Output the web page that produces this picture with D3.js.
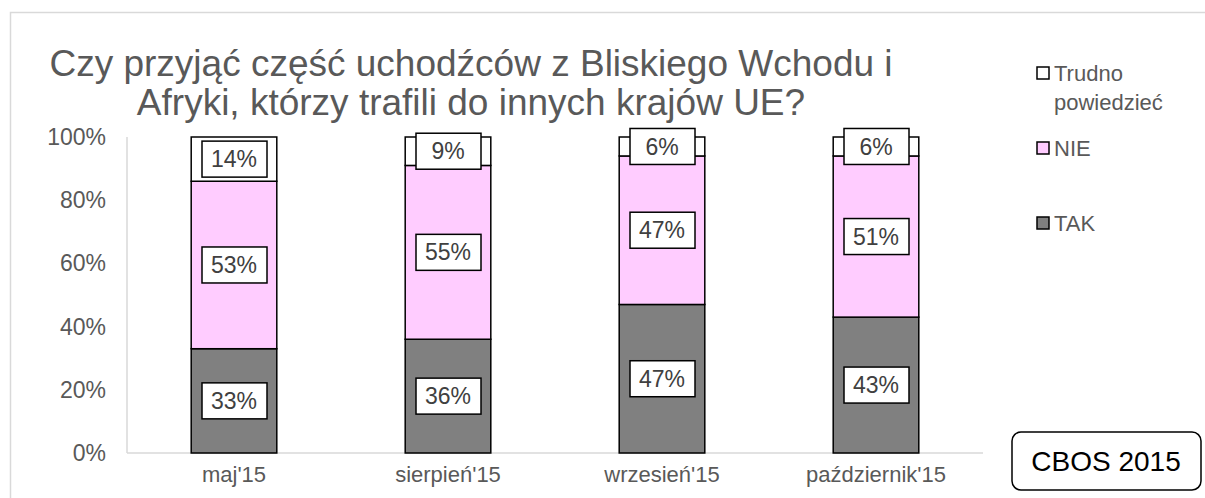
<!DOCTYPE html>
<html>
<head>
<meta charset="utf-8">
<script src="https://cdn.jsdelivr.net/npm/d3@7"></script>
<style>
  body { margin: 0; background: #fff; }
  text { font-family: Arial, "Liberation Sans", sans-serif; }
</style>
</head>
<body>
<div id="chart"></div>
<script>
var categories = ["maj'15", "sierpień'15", "wrzesień'15", "październik'15"];
var seriesNames = ["TAK", "NIE", "Trudno powiedzieć"];
var tak = [33, 36, 47, 43];
var nie = [53, 55, 47, 51];
var trudno = [14, 9, 6, 6];
var yTicks = [0, 20, 40, 60, 80, 100];

var colors = { "TAK": "#808080", "NIE": "#ffccff", "Trudno powiedzieć": "#ffffff" };

var width = 1205, height = 498;
var svg = d3.select("#chart").append("svg")
  .attr("width", width)
  .attr("height", height);

// chart area border
svg.append("rect")
  .attr("x", 10.5).attr("y", 12.5)
  .attr("width", 1210).attr("height", 500)
  .attr("fill", "none")
  .attr("stroke", "#d9d9d9")
  .attr("stroke-width", 1.5);

var x = d3.scaleBand()
  .domain(categories)
  .range([127, 983])
  .paddingInner(0.6)
  .paddingOuter(0.3);

var y = d3.scaleLinear().domain([0, 100]).range([453, 137]);

// stacked data
var rows = categories.map(function(c, i) {
  return { cat: c, "TAK": tak[i], "NIE": nie[i], "Trudno powiedzieć": trudno[i] };
});
var stack = d3.stack().keys(seriesNames)(rows);

// axis lines
svg.append("line")
  .attr("x1", 127).attr("x2", 127)
  .attr("y1", y(100)).attr("y2", y(0))
  .attr("stroke", "#d9d9d9").attr("stroke-width", 1.5);
svg.append("line")
  .attr("x1", 127).attr("x2", 983)
  .attr("y1", y(0)).attr("y2", y(0))
  .attr("stroke", "#d9d9d9").attr("stroke-width", 1.5);

// y tick labels
svg.selectAll(".ytick")
  .data(yTicks)
  .enter().append("text")
  .attr("class", "ytick")
  .attr("x", 106)
  .attr("y", function(d) { return y(d); })
  .attr("dy", "0.35em")
  .attr("text-anchor", "end")
  .attr("font-size", 23)
  .attr("fill", "#595959")
  .text(function(d) { return d + "%"; });

// x labels
svg.selectAll(".xtick")
  .data(categories)
  .enter().append("text")
  .attr("class", "xtick")
  .attr("x", function(d) { return x(d) + x.bandwidth() / 2; })
  .attr("y", 474)
  .attr("dy", "0.35em")
  .attr("text-anchor", "middle")
  .attr("font-size", 22)
  .attr("fill", "#595959")
  .text(function(d) { return d; });

// bars
var layer = svg.selectAll(".layer")
  .data(stack)
  .enter().append("g")
  .attr("class", "layer")
  .attr("fill", function(d) { return colors[d.key]; });

layer.selectAll("rect")
  .data(function(d) { return d; })
  .enter().append("rect")
  .attr("x", function(d) { return x(d.data.cat); })
  .attr("y", function(d) { return y(d[1]); })
  .attr("width", x.bandwidth())
  .attr("height", function(d) { return y(d[0]) - y(d[1]); })
  .attr("stroke", "#000")
  .attr("stroke-width", 1.5);

// data labels
var labels = [];
stack.forEach(function(s) {
  s.forEach(function(d) {
    labels.push({ cx: x(d.data.cat) + x.bandwidth() / 2, cy: y((d[0] + d[1]) / 2), v: d[1] - d[0] });
  });
});

var lg = svg.selectAll(".dlabel")
  .data(labels)
  .enter().append("g")
  .attr("class", "dlabel")
  .attr("transform", function(d) { return "translate(" + d.cx + "," + d.cy + ")"; });

lg.append("rect")
  .attr("x", -32).attr("y", -18)
  .attr("width", 65).attr("height", 36)
  .attr("fill", "#fff")
  .attr("stroke", "#000")
  .attr("stroke-width", 1.5);

lg.append("text")
  .attr("text-anchor", "middle")
  .attr("dy", "0.35em")
  .attr("font-size", 23)
  .attr("fill", "#404040")
  .text(function(d) { return Math.round(d.v) + "%"; });

// title
var title = svg.append("text")
  .attr("text-anchor", "middle")
  .attr("font-size", 37)
  .attr("fill", "#595959");
title.append("tspan").attr("x", 471).attr("y", 76)
  .text("Czy przyjąć część uchodźców z Bliskiego Wchodu i");
title.append("tspan").attr("x", 471).attr("y", 115)
  .text("Afryki, którzy trafili do innych krajów UE?");

// legend
var legendItems = [
  { key: "Trudno powiedzieć", lines: ["Trudno", "powiedzieć"], y: 73 },
  { key: "NIE", lines: ["NIE"], y: 148 },
  { key: "TAK", lines: ["TAK"], y: 223 }
];
var leg = svg.selectAll(".legend")
  .data(legendItems)
  .enter().append("g")
  .attr("class", "legend")
  .attr("transform", function(d) { return "translate(1037," + d.y + ")"; });

leg.append("rect")
  .attr("x", 0).attr("y", -6)
  .attr("width", 12).attr("height", 12)
  .attr("fill", function(d) { return colors[d.key]; })
  .attr("stroke", "#000")
  .attr("stroke-width", 1.5);

leg.append("text")
  .attr("font-size", 22)
  .attr("fill", "#595959")
  .selectAll("tspan")
  .data(function(d) { return d.lines; })
  .enter().append("tspan")
  .attr("x", 17)
  .attr("y", function(d, i) { return i * 29; })
  .attr("dy", "0.35em")
  .text(function(d) { return d; });

// source box
svg.append("rect")
  .attr("x", 1012).attr("y", 432)
  .attr("width", 189).attr("height", 58)
  .attr("rx", 9).attr("ry", 9)
  .attr("fill", "#fff")
  .attr("stroke", "#000")
  .attr("stroke-width", 1.5);
svg.append("text")
  .attr("x", 1106).attr("y", 461)
  .attr("dy", "0.35em")
  .attr("text-anchor", "middle")
  .attr("font-size", 28)
  .attr("fill", "#000")
  .text("CBOS 2015");
</script>
</body>
</html>
